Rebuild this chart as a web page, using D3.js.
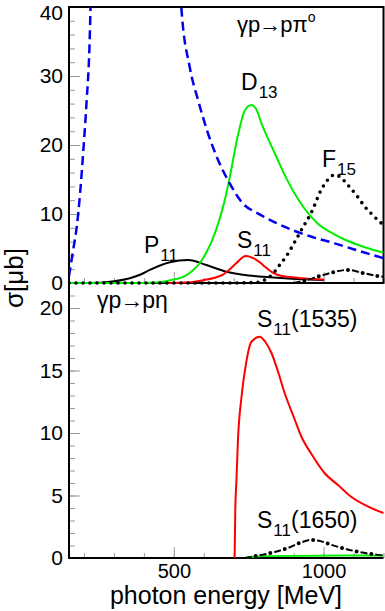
<!DOCTYPE html>
<html>
<head>
<meta charset="utf-8">
<script src="https://cdn.jsdelivr.net/npm/d3@7"></script>
<style>
  body { margin: 0; background: #fff; }
  svg { display: block; font-family: "Liberation Sans", Arial, Helvetica, sans-serif; }
</style>
</head>
<body>
<div id="chart"></div>
<script>
// photon energy [MeV], cross section [mub]
// --- upper panel: gamma p -> p pi0 ---
const deltaRise = [[150,1.0],[164,4.8],[176,8.2],[187,13],[198,19.3],[209,26.5],[218,33.8],[222,40],[226,46]];
const deltaFall = [[518,46],[525,40],[553,31.3],[581,26.5],[614,21.7],[648,17.8],[687,14.4],[731,11.5],[780,10.1],
                   [837,8.8],[900,7.6],[960,6.7],[1037,5.75],[1100,4.9],[1160,4.1],[1200,3.6]];
const d13Pi = [[150,0],[400,0],[450,0.1],[500,0.5],[537,1.0],[560,1.7],[587,2.9],[603,4.0],[626,6.0],[648,8.6],
               [670,12],[687,15.4],[714,21.4],[737,25],[759,25.8],[775,25.2],[792,23.2],[837,18.8],[880,14.8],
               [914,12.2],[981,8.6],[1030,7.2],[1070,6.3],[1130,5.3],[1200,4.4]];
const p11Pi = [[150,0],[250,0.05],[300,0.25],[353,0.7],[387,1.2],[420,1.9],[487,3.0],[548,3.33],[609,2.6],
               [676,1.64],[730,1.2],[800,0.9],[870,0.68],[950,0.5],[1000,0.45]];
const s11Pi = [[480,0],[550,0.1],[597,0.4],[640,0.8],[664,1.2],[690,2.1],[709,2.9],[740,3.9],[765,3.6],[790,2.9],
               [803,2.4],[830,1.5],[848,1.15],[880,0.9],[926,0.7],[1000,0.5]];
const f15Pi = [[150,0],[700,0],[780,0.1],[810,0.6],[830,1.3],[853,2.6],[876,3.9],[903,5.9],[930,8.0],[959,10.2],
               [992,13.5],[1015,15.0],[1037,15.7],[1060,15.2],[1081,14.2],[1110,12.7],[1137,11.1],[1165,9.8],[1200,8.4]];
const s11bPi = [[900,0],[940,0.4],[987,1.0],[1031,1.55],[1081,1.9],[1131,1.45],[1181,1.0],[1200,0.9]];

// --- lower panel: gamma p -> p eta ---
const s11Eta = [[703,0],[705,3.6],[709,6.2],[714,9.4],[726,12.9],[742,15.7],[759,17.3],[787,17.7],[805,17.3],
                [826,16.4],[848,14.9],[870,13.2],[900,11.3],[926,9.7],[960,8.3],[1003,6.8],[1050,5.8],
                [1092,4.9],[1150,4.1],[1200,3.6]];
const s11bEta = [[737,0],[792,0.24],[840,0.5],[881,0.8],[920,1.2],[959,1.45],[990,1.35],[1026,1.05],[1070,0.75],
                 [1114,0.5],[1181,0.25],[1200,0.2]];
const d13Eta = [[740,0.05],[800,0.15],[1200,0.2]];

const yTicksTop = [0, 10, 20, 30, 40];
const yTicksBot = [0, 5, 10, 15, 20];
const xTicks = [500, 1000];

const width = 385;
const height = 611;
const left = 69, right = 383.5;

const x = d3.scaleLinear().domain([150, 1200]).range([left, right]);
const yTop = d3.scaleLinear().domain([0, 40]).range([283, 7]);
const yBot = d3.scaleLinear().domain([0, 22]).range([558, 283]);

const svg = d3.select('#chart').append('svg')
  .attr('width', width)
  .attr('height', height);

const defs = svg.append('defs');
defs.append('clipPath').attr('id', 'clipTop').append('rect')
  .attr('x', left).attr('y', 7).attr('width', right - left).attr('height', 280);
defs.append('clipPath').attr('id', 'clipBot').append('rect')
  .attr('x', left).attr('y', 285).attr('width', right - left + 2).attr('height', 276);

// axes (ticks pointing inward, grey)
function yAxis(scale, major, minorStep, max, tx) {
  const gMinor = svg.append('g').attr('transform', `translate(${tx},0)`)
    .call(d3.axisLeft(scale).tickValues(d3.range(0, max + 0.01, minorStep)).tickSize(-6).tickFormat(''));
  const gMajor = svg.append('g').attr('transform', `translate(${tx},0)`)
    .call(d3.axisLeft(scale).tickValues(major).tickSizeInner(-11).tickSizeOuter(0).tickPadding(6));
  [gMinor, gMajor].forEach(g => {
    g.select('.domain').remove();
    g.selectAll('line').attr('stroke', '#999');
    g.selectAll('text').attr('font-size', 21).attr('fill', '#000')
      .style('font-family', '"Liberation Sans", Arial, sans-serif');
  });
  // keep the top label inside the picture
  gMajor.selectAll('text').filter(d => d === 40).attr('dy', '0.58em');
}
function xAxis(ty, labels) {
  const gMinor = svg.append('g').attr('transform', `translate(0,${ty})`)
    .call(d3.axisBottom(x).tickValues(d3.range(200, 1201, 100)).tickSize(-5).tickFormat(''));
  const gMajor = svg.append('g').attr('transform', `translate(0,${ty})`)
    .call(d3.axisBottom(x).tickValues(xTicks).tickSizeInner(-11).tickSizeOuter(0).tickPadding(6)
      .tickFormat(labels ? d3.format('d') : ''));
  [gMinor, gMajor].forEach(g => {
    g.select('.domain').remove();
    g.selectAll('line').attr('stroke', '#999');
    g.selectAll('text').attr('font-size', 20).attr('fill', '#000')
      .style('font-family', '"Liberation Sans", Arial, sans-serif');
  });
}
yAxis(yTop, yTicksTop, 2, 40, left);
yAxis(yBot, yTicksBot, 1, 22, left);
xAxis(283, false);
xAxis(558, true);

// frames
svg.append('rect').attr('x', left).attr('y', 7).attr('width', right - left).attr('height', 276)
  .attr('fill', 'none').attr('stroke', '#000').attr('stroke-width', 2);
svg.append('path')
  .attr('d', `M${left},283V558H${right}`)
  .attr('fill', 'none').attr('stroke', '#000').attr('stroke-width', 2);

// curves
const gTop = svg.append('g').attr('clip-path', 'url(#clipTop)');
const gBot = svg.append('g').attr('clip-path', 'url(#clipBot)');

function drawCurve(g, data, yScale, style) {
  const line = d3.line().x(d => x(d[0])).y(d => yScale(d[1])).curve(d3.curveMonotoneX);
  const p = g.append('path').datum(data).attr('d', line).attr('fill', 'none');
  if (style === 'dashed') {
    p.attr('stroke', '#0000ee').attr('stroke-width', 2.5).attr('stroke-dasharray', '9,5');
  } else if (style === 'dotted') {
    p.attr('stroke', '#000').attr('stroke-width', 3.6).attr('stroke-linecap', 'round').attr('stroke-dasharray', '0,7');
  } else if (style === 'dashdot') {
    p.attr('stroke', '#000').attr('stroke-width', 2).attr('stroke-dasharray', '7,8');
    g.append('path').datum(data).attr('d', line).attr('fill', 'none')
      .attr('stroke', '#000').attr('stroke-width', 4).attr('stroke-linecap', 'round')
      .attr('stroke-dasharray', '0,15').attr('stroke-dashoffset', -11);
  } else {
    p.attr('stroke', style).attr('stroke-width', 2);
  }
}

drawCurve(gTop, p11Pi, yTop, '#000');
drawCurve(gTop, d13Pi, yTop, '#00ee00');
drawCurve(gTop, s11Pi, yTop, '#ff0000');
drawCurve(gTop, deltaRise, yTop, 'dashed');
drawCurve(gTop, deltaFall, yTop, 'dashed');
drawCurve(gTop, s11bPi, yTop, 'dashdot');
drawCurve(gTop, f15Pi, yTop, 'dotted');

drawCurve(gBot, d13Eta, yBot, '#00ee00');
drawCurve(gBot, s11Eta, yBot, '#ff0000');
drawCurve(gBot, s11bEta, yBot, 'dashdot');

// labels
function label(px, py, main, sub, rest) {
  const t = svg.append('text').attr('x', px).attr('y', py).attr('font-size', 23).attr('fill', '#000');
  t.append('tspan').text(main);
  t.append('tspan').attr('font-size', 17).attr('dx', 1).attr('dy', 8).text(sub);
  if (rest) t.append('tspan').attr('dy', -8).text(rest);
}
label(241, 90, 'D', '13');
label(322, 167, 'F', '15');
label(144, 253, 'P', '11');
label(237, 248, 'S', '11');
label(257, 327, 'S', '11', '(1535)');
label(257, 528, 'S', '11', '(1650)');

const rTop = svg.append('text').attr('x', 237).attr('y', 32).attr('font-size', 22);
rTop.append('tspan').text('γp');
rTop.append('tspan').attr('dx', -1).text('→');
rTop.append('tspan').attr('dx', -1).text('pπ');
rTop.append('tspan').attr('font-size', 14).attr('dy', -10).text('o');
const rBot = svg.append('text').attr('x', 97).attr('y', 308).attr('font-size', 23);
rBot.append('tspan').text('γp');
rBot.append('tspan').attr('dx', -1).text('→');
rBot.append('tspan').attr('dx', -1).text('pη');

// axis titles
svg.append('text')
  .attr('transform', 'translate(23,278) rotate(-90)')
  .attr('text-anchor', 'middle')
  .attr('font-size', 26)
  .text('σ[μb]');
svg.append('text')
  .attr('x', 226)
  .attr('y', 604)
  .attr('text-anchor', 'middle')
  .attr('font-size', 25)
  .text('photon energy [MeV]');
</script>
</body>
</html>
